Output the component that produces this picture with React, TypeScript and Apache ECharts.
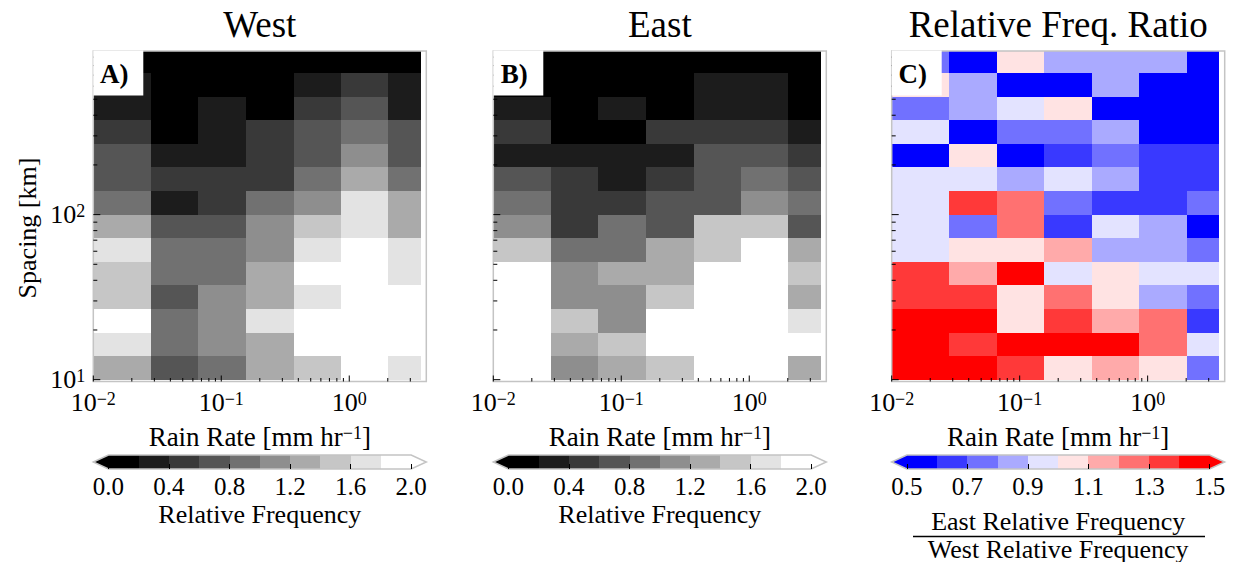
import React, { useEffect, useRef } from 'react';
import * as echarts from 'echarts';

// ---------------- Data ----------------
// rain-rate bin edges (mm/hr) and spacing bin edges (km, listed from the top row down)
const RAIN_RATE_EDGES = [0.01, 0.028, 0.066, 0.156, 0.37, 0.86, 2.02, 3.63];
const SPACING_EDGES_TOP_DOWN = [1000, 719.7, 517.9, 372.8, 268.3, 193.1, 138.9, 100, 72.0, 51.8, 37.3, 26.8, 19.3, 13.9, 10];

// rows: top (719.7-1000 km) to bottom (10-13.9 km); columns: low to high rain rate
const WEST_FREQ = [
  [0.1, 0.1, 0.1, 0.1, 0.1, 0.1, 0.1],
  [0.3, 0.1, 0.1, 0.1, 0.3, 0.5, 0.3],
  [0.3, 0.1, 0.3, 0.1, 0.5, 0.7, 0.3],
  [0.5, 0.1, 0.3, 0.5, 0.7, 0.9, 0.7],
  [0.7, 0.3, 0.3, 0.5, 0.7, 1.1, 0.7],
  [0.7, 0.5, 0.5, 0.5, 0.9, 1.3, 0.9],
  [0.9, 0.3, 0.5, 0.9, 1.1, 1.7, 1.3],
  [1.3, 0.7, 0.7, 1.1, 1.5, 1.7, 1.3],
  [1.7, 0.9, 0.9, 1.1, 1.7, 1.9, 1.7],
  [1.5, 0.9, 0.9, 1.3, 1.9, 1.9, 1.7],
  [1.5, 0.7, 1.1, 1.3, 1.7, 1.9, 1.9],
  [1.9, 0.9, 1.1, 1.7, 1.9, 1.9, 1.9],
  [1.7, 0.9, 1.1, 1.3, 1.9, 1.9, 1.9],
  [1.3, 0.7, 0.9, 1.3, 1.5, 1.9, 1.7],
];

const EAST_FREQ = [
  [0.1, 0.1, 0.1, 0.1, 0.1, 0.1, 0.1],
  [0.1, 0.1, 0.1, 0.1, 0.3, 0.3, 0.1],
  [0.3, 0.1, 0.3, 0.1, 0.3, 0.3, 0.1],
  [0.5, 0.1, 0.1, 0.5, 0.5, 0.5, 0.3],
  [0.3, 0.3, 0.3, 0.3, 0.7, 0.7, 0.5],
  [0.7, 0.5, 0.3, 0.5, 0.7, 0.9, 0.7],
  [0.9, 0.5, 0.5, 0.7, 0.7, 1.1, 0.9],
  [1.1, 0.5, 0.9, 0.7, 1.5, 1.5, 0.7],
  [1.5, 0.9, 0.9, 1.3, 1.5, 1.9, 1.3],
  [1.9, 1.1, 1.3, 1.3, 1.9, 1.9, 1.5],
  [1.9, 1.1, 1.1, 1.5, 1.9, 1.9, 1.3],
  [1.9, 1.5, 1.1, 1.9, 1.9, 1.9, 1.7],
  [1.9, 1.3, 1.5, 1.9, 1.9, 1.9, 1.9],
  [1.9, 1.1, 1.3, 1.5, 1.9, 1.9, 1.3],
];

const FREQ_RATIO = [
  [0.75, 0.55, 1.05, 0.85, 0.85, 0.85, 0.55],
  [1.05, 0.85, 0.55, 0.55, 0.85, 0.55, 0.55],
  [0.75, 0.85, 0.95, 1.05, 0.55, 0.55, 0.55],
  [0.95, 0.55, 0.75, 0.75, 0.85, 0.55, 0.55],
  [0.55, 1.05, 0.55, 0.65, 0.75, 0.65, 0.65],
  [0.95, 0.95, 0.85, 0.95, 0.85, 0.65, 0.65],
  [0.95, 1.35, 1.25, 0.75, 0.65, 0.65, 0.75],
  [0.95, 0.75, 1.25, 0.65, 0.95, 0.85, 0.55],
  [0.95, 1.05, 1.05, 1.15, 0.85, 0.85, 0.75],
  [1.35, 1.15, 1.45, 0.95, 1.05, 0.95, 0.95],
  [1.35, 1.35, 1.05, 1.25, 1.05, 0.85, 0.75],
  [1.45, 1.45, 1.05, 1.35, 1.15, 1.25, 0.65],
  [1.45, 1.35, 1.45, 1.45, 1.45, 1.25, 0.95],
  [1.45, 1.45, 1.35, 1.05, 1.15, 1.05, 0.75],
];

const GREY_BOUNDS = [0, 0.2, 0.4, 0.6, 0.8, 1.0, 1.2, 1.4, 1.6, 1.8, 2.0];
const GREY_COLORS = ['#000000', '#1c1c1c', '#393939', '#555555', '#717171', '#8e8e8e', '#aaaaaa', '#c6c6c6', '#e3e3e3', '#ffffff'];
const RATIO_BOUNDS = [0.5, 0.6, 0.7, 0.8, 0.9, 1.0, 1.1, 1.2, 1.3, 1.4, 1.5];
const BWR_COLORS = ['#0000ff', '#3939ff', '#7171ff', '#aaaaff', '#e3e3ff', '#ffe3e3', '#ffaaaa', '#ff7171', '#ff3939', '#ff0000'];
const GREY_TICKS = [0, 0.4, 0.8, 1.2, 1.6, 2.0];
const RATIO_TICKS = [0.5, 0.7, 0.9, 1.1, 1.3, 1.5];

const X_MAJOR_TICKS = [0.01, 0.1, 1];
const X_MINOR_TICKS = [0.02, 0.03, 0.04, 0.05, 0.06, 0.07, 0.08, 0.09, 0.2, 0.3, 0.4, 0.5, 0.6, 0.7, 0.8, 0.9, 2, 3];
const Y_MAJOR_TICKS = [10, 100];
const Y_MINOR_TICKS = [20, 30, 40, 50, 60, 70, 80, 90, 200, 300, 400, 500, 600, 700, 800, 900];

const X_MIN = 0.01;
const X_MAX = 4;
const Y_MIN = 9.75;
const Y_MAX = 980;

const TITLES = ['West', 'East', 'Relative Freq. Ratio'];
const LETTERS = ['A)', 'B)', 'C)'];

// ---------------- Layout ----------------
const FONT = "'Liberation Serif', 'Times New Roman', serif";
const PANEL_LEFT = [93.3, 493.3, 891.7];
const PANEL_W = 333;
const PANEL_TOP = 51;
const PANEL_H = 330.5;
const CB_TOP = 455;
const CB_H = 14;
const SPINE = '#c4c4c4';

function buildCells(grid: number[][]) {
  const out: number[][] = [];
  grid.forEach((row, r) =>
    row.forEach((v, c) => {
      out.push([RAIN_RATE_EDGES[c], RAIN_RATE_EDGES[c + 1], SPACING_EDGES_TOP_DOWN[r + 1], SPACING_EDGES_TOP_DOWN[r], v]);
    })
  );
  return out;
}

function buildPieces(bounds: number[], colors: string[]) {
  return colors.map((color, i) => {
    const p: any = { color };
    if (i > 0) p.gte = bounds[i];
    if (i < colors.length - 1) p.lt = bounds[i + 1];
    return p;
  });
}

function buildColorbar(bounds: number[]) {
  const lo = bounds[0];
  const hi = bounds[bounds.length - 1];
  const ext = 0.05 * (hi - lo);
  const out: number[][] = [];
  for (let i = 0; i < bounds.length - 1; i++) {
    out.push([bounds[i], bounds[i + 1], 0, 1, (bounds[i] + bounds[i + 1]) / 2, 0, lo, hi]);
  }
  out.push([lo - ext, lo, 0, 1, lo - ext / 2, 1, lo, hi]);
  out.push([hi, hi + ext, 0, 1, hi + ext / 2, 2, lo, hi]);
  out.push([lo - ext, hi + ext, 0, 1, (lo + hi) / 2, 3, lo, hi]);
  return out;
}

function tickData() {
  return [
    ...X_MAJOR_TICKS.map((v) => [v, Y_MIN, 0]),
    ...X_MINOR_TICKS.map((v) => [v, Y_MIN, 1]),
    ...Y_MAJOR_TICKS.map((v) => [X_MIN, v, 2]),
    ...Y_MINOR_TICKS.map((v) => [X_MIN, v, 3]),
  ];
}

function powLabel(v: number) {
  const e = Math.log10(v);
  const r = Math.round(e);
  if (Math.abs(e - r) > 1e-6) return '';
  const s = r < 0 ? '\u2212' + Math.abs(r) : String(r);
  return '{b|10}{s|' + s + '}';
}

const powRich = {
  b: { fontSize: 26, lineHeight: 26, fontFamily: FONT, color: '#000', verticalAlign: 'bottom' },
  s: { fontSize: 18, lineHeight: 16, fontFamily: FONT, color: '#000', verticalAlign: 'top' },
};

const heatRender = (params: any, api: any) => {
  const p0 = api.coord([api.value(0), api.value(2)]);
  const p1 = api.coord([api.value(1), api.value(3)]);
  const x0 = Math.round(p0[0]);
  const x1 = Math.round(p1[0]);
  const y0 = Math.round(p0[1]);
  const y1 = Math.round(p1[1]);
  return {
    type: 'rect',
    shape: { x: x0, y: y1, width: x1 - x0, height: y0 - y1 },
    style: { fill: api.visual('color') },
  };
};

const tickRender = (params: any, api: any) => {
  const p = api.coord([api.value(0), api.value(1)]);
  const k = api.value(2);
  const len = [6, 3.5, 7, 4][k];
  const shape =
    k < 2
      ? { x1: p[0], y1: p[1], x2: p[0], y2: p[1] - len }
      : { x1: p[0], y1: p[1], x2: p[0] + len, y2: p[1] };
  return { type: 'line', shape, style: { stroke: '#000', lineWidth: 1 } };
};

const cbRender = (params: any, api: any) => {
  const kind = api.value(5);
  const a = api.coord([api.value(0), api.value(2)]);
  const b = api.coord([api.value(1), api.value(3)]);
  const color = api.visual('color');
  const midY = (a[1] + b[1]) / 2;
  if (kind === 0) {
    const x0 = Math.round(a[0]);
    const x1 = Math.round(b[0]);
    return { type: 'rect', shape: { x: x0, y: b[1], width: x1 - x0, height: a[1] - b[1] }, style: { fill: color } };
  }
  if (kind === 1) {
    return { type: 'polygon', shape: { points: [[a[0], midY], [Math.round(b[0]) + 0.5, b[1]], [Math.round(b[0]) + 0.5, a[1]]] }, style: { fill: color } };
  }
  if (kind === 2) {
    return { type: 'polygon', shape: { points: [[Math.round(a[0]) - 0.5, b[1]], [b[0], midY], [Math.round(a[0]) - 0.5, a[1]]] }, style: { fill: color } };
  }
  const c = api.coord([api.value(6), 0]);
  const d = api.coord([api.value(7), 1]);
  return {
    type: 'polygon',
    z2: 10,
    shape: { points: [[a[0], midY], [c[0], d[1]], [d[0], d[1]], [b[0], midY], [d[0], c[1]], [c[0], c[1]]] },
    style: { fill: 'none', stroke: SPINE, lineWidth: 1.5 },
  };
};

export default function App() {
  const ref = useRef<HTMLDivElement>(null);

  useEffect(() => {
    document.body.style.margin = '0';
    const chart = echarts.init(ref.current!, null, { renderer: 'svg' });

    const grids: any[] = [];
    const xAxes: any[] = [];
    const yAxes: any[] = [];
    const series: any[] = [];
    const datasets = [WEST_FREQ, EAST_FREQ, FREQ_RATIO];

    PANEL_LEFT.forEach((left, i) => {
      grids.push({
        left, top: PANEL_TOP, width: PANEL_W, height: PANEL_H,
        show: true, borderColor: SPINE, borderWidth: 1.5, backgroundColor: 'transparent', z: 3,
      });
      xAxes.push({
        type: 'log', logBase: 10, gridIndex: i, min: X_MIN, max: X_MAX,
        axisLine: { show: false }, axisTick: { show: false }, splitLine: { show: false },
        axisLabel: { show: true, margin: 8, formatter: powLabel, rich: powRich },
      });
      yAxes.push({
        type: 'log', logBase: 10, gridIndex: i, min: Y_MIN, max: Y_MAX,
        axisLine: { show: false }, axisTick: { show: false }, splitLine: { show: false },
        axisLabel: { show: i === 0, margin: 8, formatter: powLabel, rich: powRich },
      });
    });
    PANEL_LEFT.forEach((left, i) => {
      const bounds = i < 2 ? GREY_BOUNDS : RATIO_BOUNDS;
      const ticks = i < 2 ? GREY_TICKS : RATIO_TICKS;
      const lo = bounds[0];
      const hi = bounds[bounds.length - 1];
      const ext = 0.05 * (hi - lo);
      grids.push({ left, top: CB_TOP, width: PANEL_W, height: CB_H, show: false });
      xAxes.push({
        type: 'value', gridIndex: 3 + i, min: lo - ext, max: hi + ext, z: 10,
        axisLine: { show: false }, splitLine: { show: false },
        axisTick: { show: true, inside: true, length: 5, customValues: ticks, lineStyle: { color: '#000', width: 1 } },
        axisLabel: {
          customValues: ticks, margin: 5, fontSize: 25, lineHeight: 25, fontFamily: FONT, color: '#000',
          formatter: (v: number) => v.toFixed(1),
        },
      });
      yAxes.push({ type: 'value', gridIndex: 3 + i, min: 0, max: 1, show: false });
    });

    datasets.forEach((g, i) => {
      series.push({
        type: 'custom', xAxisIndex: i, yAxisIndex: i, clip: true, z: 2,
        encode: { x: [0, 1], y: [2, 3] },
        renderItem: heatRender, data: buildCells(g), silent: true,
      });
    });
    PANEL_LEFT.forEach((_, i) => {
      series.push({
        type: 'custom', xAxisIndex: i, yAxisIndex: i, clip: false, z: 5,
        encode: { x: 0, y: 1 },
        renderItem: tickRender, data: tickData(), silent: true,
      });
    });
    PANEL_LEFT.forEach((_, i) => {
      series.push({
        type: 'custom', xAxisIndex: 3 + i, yAxisIndex: 3 + i, clip: false, z: 2,
        encode: { x: [0, 1], y: [2, 3] },
        renderItem: cbRender, data: buildColorbar(i < 2 ? GREY_BOUNDS : RATIO_BOUNDS), silent: true,
      });
    });

    const graphics: any[] = [];
    PANEL_LEFT.forEach((left, i) => {
      const cx = left + PANEL_W / 2;
      graphics.push({
        type: 'text', x: cx, y: 24, z: 100,
        style: { text: TITLES[i], font: `37px ${FONT}`, fill: '#000', align: 'center', verticalAlign: 'middle' },
      });
      graphics.push({
        type: 'text', x: cx, y: 437, z: 100,
        style: {
          text: '{a|Rain Rate [mm hr}{s|\u22121}{a|]}', align: 'center', verticalAlign: 'middle',
          rich: {
            a: { fontSize: 27, lineHeight: 27, fontFamily: FONT, fill: '#000', verticalAlign: 'bottom' },
            s: { fontSize: 18, lineHeight: 16, fontFamily: FONT, fill: '#000', verticalAlign: 'top' },
          },
        },
      });
      graphics.push({
        type: 'rect', z: 100, shape: { x: left, y: PANEL_TOP - 0.5, width: 50, height: 45 },
        style: { fill: '#ffffff' },
      });
      graphics.push({
        type: 'text', x: left + 21, y: 74, z: 101,
        style: { text: LETTERS[i], font: `bold 27px ${FONT}`, fill: '#000', align: 'center', verticalAlign: 'middle' },
      });
      if (i < 2) {
        graphics.push({
          type: 'text', x: cx, y: 514, z: 100,
          style: { text: 'Relative Frequency', font: `26px ${FONT}`, fill: '#000', align: 'center', verticalAlign: 'middle' },
        });
      } else {
        graphics.push({
          type: 'text', x: cx, y: 521, z: 100,
          style: { text: 'East Relative Frequency', font: `26px ${FONT}`, fill: '#000', align: 'center', verticalAlign: 'middle' },
        });
        graphics.push({
          type: 'line', z: 100, shape: { x1: 913, y1: 536.5, x2: 1205, y2: 536.5 },
          style: { stroke: '#000', lineWidth: 1.6 },
        });
        graphics.push({
          type: 'text', x: cx, y: 549, z: 100,
          style: { text: 'West Relative Frequency', font: `26px ${FONT}`, fill: '#000', align: 'center', verticalAlign: 'middle' },
        });
      }
    });
    graphics.push({
      type: 'text', x: 27, y: 228, rotation: Math.PI / 2, z: 100,
      style: { text: 'Spacing [km]', font: `26px ${FONT}`, fill: '#000', align: 'center', verticalAlign: 'middle' },
    });

    chart.setOption({
      animation: false,
      backgroundColor: '#ffffff',
      textStyle: { fontFamily: FONT },
      grid: grids,
      xAxis: xAxes,
      yAxis: yAxes,
      visualMap: [
        { type: 'piecewise', show: false, seriesIndex: [0, 1, 6, 7], dimension: 4, pieces: buildPieces(GREY_BOUNDS, GREY_COLORS) },
        { type: 'piecewise', show: false, seriesIndex: [2, 8], dimension: 4, pieces: buildPieces(RATIO_BOUNDS, BWR_COLORS) },
      ],
      series,
      graphic: { elements: graphics },
    });

    return () => chart.dispose();
  }, []);

  return <div ref={ref} style={{ width: 1236, height: 562 }} />;
}
